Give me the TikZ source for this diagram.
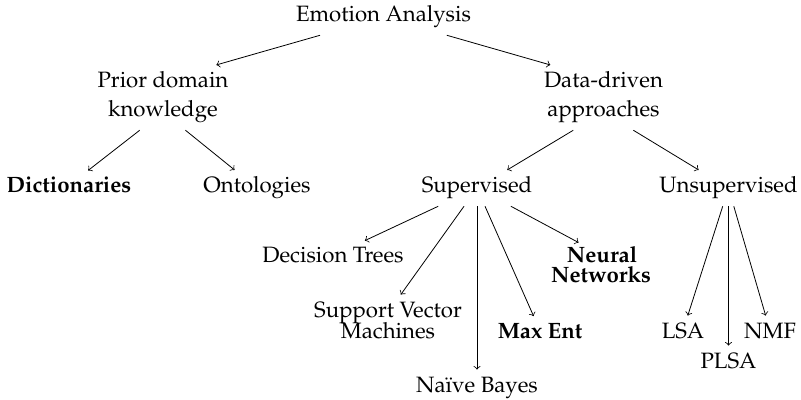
\documentclass[tikz,border=0pt]{standalone}
% Palatino-style text face, with fallbacks
\IfFileExists{mathpazo.sty}{%
  \usepackage[T1]{fontenc}\usepackage{mathpazo}\newcommand{\lblsize}{11.1}%
}{\IfFileExists{newpxtext.sty}{%
  \usepackage[T1]{fontenc}\usepackage{newpxtext}\newcommand{\lblsize}{11.1}%
}{%
  \usepackage{fontspec}\setmainfont{Liberation Serif}\newcommand{\lblsize}{11.9}%
}}
\begin{document}
\begin{tikzpicture}[x=0.5pt, y=-0.5pt,
  lbl/.style={anchor=base, inner sep=3.3pt, font=\fontsize{\lblsize}{13.6}\selectfont},
  bl/.style={lbl, font=\fontsize{\lblsize}{13.6}\selectfont\bfseries},
  link/.style={->, line width=0.4pt}]
  \useasboundingbox (0,0) rectangle (801,400);

  % root
  \node[lbl] (ea) at (383.5,22) {Emotion Analysis};

  % second level (two-line labels, one line per node)
  \node[lbl] (pdk1) at (163,88)  {Prior domain};
  \node[lbl] (pdk2) at (163,117) {knowledge};
  \node[lbl] (dd1)  at (603.5,88)  {Data-driven};
  \node[lbl] (dd2)  at (603.5,117) {approaches};

  % third level
  \node[bl]  (dict)  at (69,193)    {Dictionaries};
  \node[lbl] (onto)  at (257,193)   {Ontologies};
  \node[lbl] (sup)   at (477,193)   {Supervised};
  \node[lbl] (unsup) at (728.5,193) {Unsupervised};

  % supervised methods
  \node[lbl] (dt)   at (333,263) {Decision Trees};
  \node[lbl] (svm1) at (388,317) {Support Vector};
  \node[lbl] (svm2) at (388,338) {Machines};
  \node[lbl] (nb)   at (477,392) {Na\"{\i}ve Bayes};
  \node[bl]  (me)   at (540,338) {Max Ent};
  \node[bl, inner ysep=2pt] (nn1) at (602,263) {Neural};
  \node[bl, inner sep=0pt]  (nn2) at (601,282) {Networks};

  % unsupervised methods
  \node[lbl] (lsa)  at (683,338)   {LSA};
  \node[lbl] (plsa) at (728.5,368) {PLSA};
  \node[lbl] (nmf)  at (770,338)   {NMF};

  % connectors
  \draw[link] (ea) -- (pdk1);
  \draw[link] (ea) -- (dd1);
  \draw[link] (pdk2) -- (dict);
  \draw[link] (pdk2) -- (onto);
  \draw[link] (dd2) -- (sup);
  \draw[link] (dd2) -- (unsup);
  \draw[link] (sup) -- (dt);
  \draw[link] (sup) -- (svm1);
  \draw[link] (sup) -- (nb);
  \draw[link] (sup) -- (me);
  \draw[link] (sup) -- (nn1);
  \draw[link] (unsup) -- (lsa);
  \draw[link] (unsup) -- (plsa);
  \draw[link] (unsup) -- (nmf);
\end{tikzpicture}
\end{document}
